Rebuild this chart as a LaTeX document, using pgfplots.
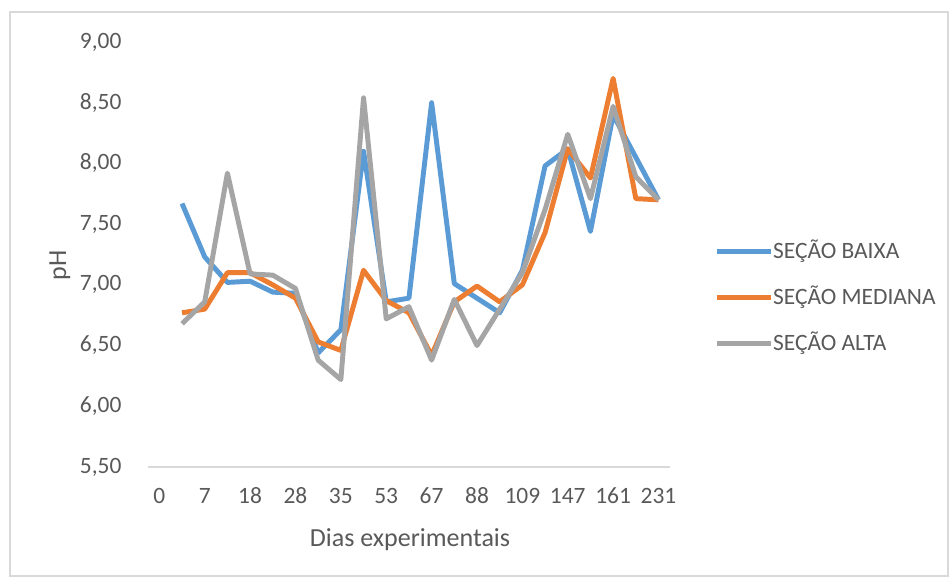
\documentclass[border=0pt]{standalone}
\usepackage{pgfplots}
\pgfplotsset{compat=1.18}
\usepackage{fontspec}
\setmainfont{Carlito}
\definecolor{cblue}{HTML}{5B9BD5}
\definecolor{corange}{HTML}{ED7D31}
\definecolor{cgray}{HTML}{A5A5A5}
\definecolor{ctext}{HTML}{595959}
\definecolor{cline}{HTML}{D9D9D9}
\begin{document}
\begin{tikzpicture}
\begin{axis}[
  scale only axis,
  width=200.4pt, height=163.2pt,
  xmin=-0.5, xmax=22.5,
  ymin=5.5, ymax=9,
  axis line style={draw=none},
  axis x line*=bottom,
  axis y line*=left,
  xtick={0,2,...,22},
  xticklabels={0,7,18,28,35,53,67,88,109,147,161,231},
  ytick={5.5,6,...,9},
  major tick length=0pt,
  tick style={draw=none},
  /pgf/number format/assume math mode=true,
  yticklabel={\pgfmathprintnumber[fixed,fixed zerofill,precision=2,use comma]{\tick}},
  ticklabel style={font=\fontsize{9}{11}\selectfont, text=ctext},
  xticklabel style={anchor=base, yshift=-14.2pt},
  yticklabel style={anchor=east, inner sep=0pt, xshift=-10pt},
  xlabel={Dias experimentais},
  ylabel={pH},
  label style={font=\fontsize{10}{12}\selectfont, text=ctext},
  xlabel style={at={(axis description cs:0.502,0)}, anchor=center, yshift=-28pt},
  ylabel style={at={(axis description cs:0,0.475)}, anchor=center, yshift=33.8pt},
  legend style={at={(axis description cs:1.084,0.398)}, anchor=west, draw=none, fill=none,
    inner sep=0pt, row sep=9.7pt, font=\fontsize{9}{11}\selectfont, text=ctext,
    nodes={inner sep=0pt, text depth=1.5pt, text height=6.5pt}},
  legend cell align=left,
  legend image code/.code={\draw[#1, line width=1.9pt] (0pt,0pt) -- (20.7pt,0pt);},
  /tikz/every even column/.append style={column sep=2pt},
  every axis plot/.append style={line width=1.9pt, line join=round, mark=none},
  clip=false,
]
\draw[cline, line width=0.6pt] (axis cs:-0.5,5.5) -- (axis cs:22.5,5.5);
\addplot[cblue] coordinates {
(1,7.67) (2,7.23) (3,7.02) (4,7.03) (5,6.94) (6,6.93) (7,6.44) (8,6.63) (9,8.10) (10,6.86) (11,6.89)
(12,8.50) (13,7.01) (14,6.89) (15,6.77) (16,7.12) (17,7.98) (18,8.12) (19,7.44) (20,8.40) (21,8.05) (22,7.70)};
\addlegendentry{SEÇÃO BAIXA}
\addplot[corange] coordinates {
(1,6.77) (2,6.80) (3,7.10) (4,7.10) (5,7.00) (6,6.89) (7,6.53) (8,6.46) (9,7.12) (10,6.87) (11,6.77)
(12,6.42) (13,6.86) (14,6.99) (15,6.86) (16,7.00) (17,7.43) (18,8.12) (19,7.88) (20,8.70) (21,7.71) (22,7.70)};
\addlegendentry{SEÇÃO MEDIANA}
\addplot[cgray] coordinates {
(1,6.68) (2,6.86) (3,7.92) (4,7.09) (5,7.08) (6,6.97) (7,6.38) (8,6.22) (9,8.54) (10,6.72) (11,6.82)
(12,6.38) (13,6.88) (14,6.50) (15,6.80) (16,7.10) (17,7.62) (18,8.24) (19,7.71) (20,8.47) (21,7.89) (22,7.70)};
\addlegendentry{SEÇÃO ALTA}
\end{axis}
\draw[cline, line width=0.6pt] (-138*0.384pt,-109*0.384pt) rectangle (800*0.384pt,455*0.384pt);
\useasboundingbox (-148*0.384pt,-111*0.384pt) rectangle (802*0.384pt,467*0.384pt);
\end{tikzpicture}
\end{document}
